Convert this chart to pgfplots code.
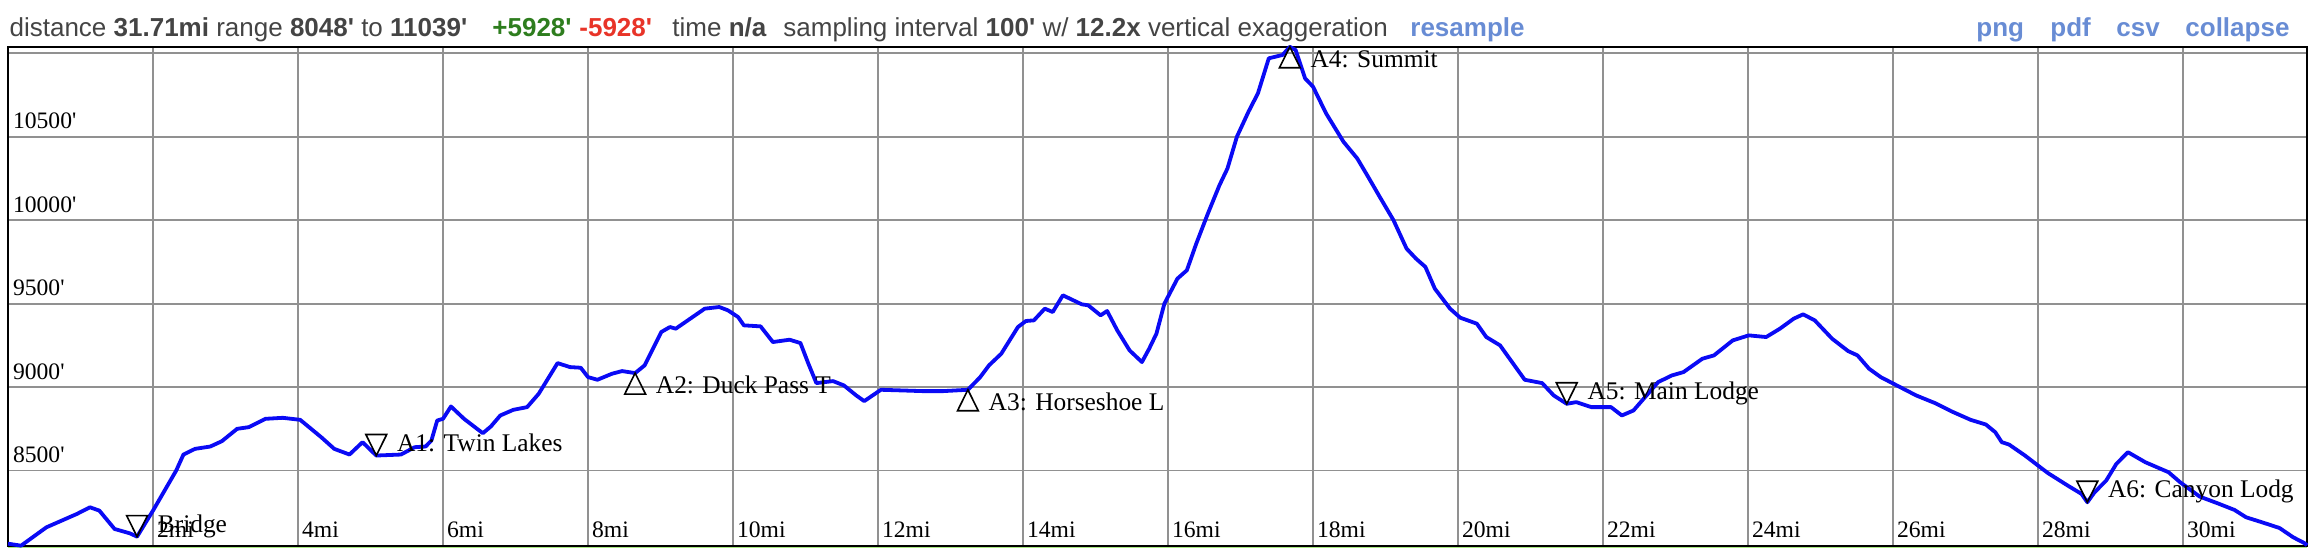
\documentclass[border=0pt]{standalone}
\usepackage{pgfplots}
\pgfplotsset{compat=1.18}
\usepackage{fontspec}
\setmainfont{Liberation Serif}
\newfontfamily\hdrfont{Liberation Sans}
\definecolor{gridc}{RGB}{145,145,145}
\definecolor{hdrc}{RGB}{68,68,68}
\definecolor{upc}{RGB}{46,125,30}
\definecolor{downc}{RGB}{232,52,40}
\definecolor{linkc}{RGB}{104,140,212}
\definecolor{curvec}{RGB}{10,10,245}
\definecolor{slopec}{RGB}{170,232,130}
\newcommand{\ft}{\textquotesingle}
\newcommand{\hdr}{\hdrfont\fontsize{13bp}{15bp}\selectfont}
\newcommand{\tickf}{\fontsize{11.8bp}{13bp}\selectfont}
\newcommand{\lblf}{\fontsize{12.7bp}{15bp}\selectfont}
\pgfdeclareplotmark{tdown}{%
  \pgfpathmoveto{\pgfpoint{0bp}{0bp}}%
  \pgfpathlineto{\pgfpoint{-5.2bp}{10.5bp}}%
  \pgfpathlineto{\pgfpoint{5.2bp}{10.5bp}}%
  \pgfpathclose\pgfusepathqstroke}
\pgfdeclareplotmark{tup}{%
  \pgfpathmoveto{\pgfpoint{0bp}{0bp}}%
  \pgfpathlineto{\pgfpoint{-5.2bp}{-10.5bp}}%
  \pgfpathlineto{\pgfpoint{5.2bp}{-10.5bp}}%
  \pgfpathclose\pgfusepathqstroke}
\pgfplotstableread{
x y
0.00 8062
0.18 8050
0.53 8160
0.95 8240
1.13 8280
1.26 8260
1.47 8150
1.68 8124
1.78 8104
2.00 8260
2.16 8380
2.32 8500
2.42 8596
2.58 8630
2.79 8644
2.95 8676
3.16 8750
3.32 8760
3.55 8810
3.79 8816
4.03 8804
4.32 8700
4.50 8630
4.71 8596
4.89 8670
5.08 8590
5.42 8596
5.61 8640
5.76 8644
5.84 8680
5.92 8800
6.00 8810
6.11 8884
6.29 8810
6.47 8750
6.55 8724
6.66 8764
6.79 8830
6.97 8864
7.16 8880
7.32 8960
7.58 9144
7.75 9120
7.90 9116
8.00 9060
8.13 9044
8.33 9080
8.47 9096
8.65 9084
8.78 9130
9.01 9330
9.13 9360
9.21 9350
9.41 9410
9.61 9470
9.81 9480
9.93 9460
10.07 9420
10.15 9370
10.38 9364
10.55 9270
10.78 9284
10.93 9264
11.04 9140
11.15 9024
11.38 9036
11.53 9010
11.70 8950
11.81 8916
12.04 8984
12.33 8980
12.61 8976
12.90 8976
13.24 8984
13.41 9060
13.53 9130
13.70 9200
13.93 9360
14.04 9396
14.15 9400
14.30 9470
14.41 9450
14.55 9550
14.81 9496
14.90 9490
15.07 9430
15.16 9456
15.30 9340
15.47 9220
15.64 9150
15.74 9230
15.84 9320
15.95 9500
16.13 9650
16.26 9700
16.39 9860
16.55 10040
16.71 10210
16.82 10310
16.95 10500
17.11 10650
17.24 10760
17.39 10970
17.58 10990
17.68 11039
17.76 11020
17.89 10850
18.00 10800
18.18 10640
18.42 10470
18.61 10370
18.76 10260
18.92 10140
19.11 10000
19.29 9830
19.42 9770
19.55 9720
19.68 9590
19.89 9470
20.03 9416
20.26 9380
20.39 9300
20.58 9250
20.92 9044
21.16 9024
21.32 8950
21.50 8900
21.63 8910
21.84 8880
22.11 8880
22.26 8830
22.42 8860
22.58 8940
22.76 9030
22.95 9070
23.11 9090
23.37 9170
23.53 9190
23.79 9280
24.01 9310
24.25 9300
24.44 9350
24.63 9410
24.76 9436
24.92 9400
25.16 9290
25.38 9216
25.51 9190
25.67 9110
25.83 9060
25.99 9024
26.32 8950
26.58 8904
26.80 8856
27.07 8804
27.28 8776
27.41 8730
27.50 8670
27.60 8656
27.82 8590
28.03 8520
28.14 8484
28.41 8410
28.60 8360
28.68 8310
28.78 8370
28.94 8440
29.08 8540
29.24 8610
29.48 8550
29.80 8490
29.96 8430
30.23 8344
30.50 8300
30.71 8264
30.87 8220
31.09 8190
31.33 8156
31.52 8100
31.68 8064
31.71 8052
}\profile
\begin{document}
\begin{tikzpicture}
\useasboundingbox (0,0) rectangle (1155bp,274bp);
\fill[slopec] (4bp,0bp) rectangle (1153.5bp,1bp);
\begin{axis}[
  at={(4bp,1bp)}, anchor=south west,
  scale only axis, width=1149.5bp, height=249.6bp,
  xmin=0, xmax=31.71, ymin=8048, ymax=11039,
  clip=false,
  scaled x ticks=false, scaled y ticks=false,
  axis line style={black, line width=1bp},
  grid=major,
  major grid style={draw=gridc, line width=0.85bp},
  major tick length=0pt,
  xtick={2,4,6,8,10,12,14,16,18,20,22,24,26,28,30},
  xticklabels={2mi,4mi,6mi,8mi,10mi,12mi,14mi,16mi,18mi,20mi,22mi,24mi,26mi,28mi,30mi},
  ytick={8500,9000,9500,10000,10500,11000},
  yticklabels={8500\ft,9000\ft,9500\ft,10000\ft,10500\ft,{}},
  xticklabel style={anchor=base west, inner sep=0pt, font=\tickf, xshift=1.85bp, yshift=4.15bp},
  yticklabel style={anchor=base west, inner sep=0pt, font=\tickf, xshift=2.35bp, yshift=4bp},
  every node near coord/.append style={anchor=base west, inner sep=0pt, font=\lblf, text=black},
]
\addplot[curvec, line width=1.9bp, line join=round, no markers] table[x=x,y=y] {\profile};
\addplot[only marks, mark=tdown, mark options={draw=black, line width=0.8bp},
  nodes near coords, point meta=explicit symbolic,
  every node near coord/.append style={xshift=10bp, yshift=2.25bp}]
  table[col sep=comma, row sep=\\, x=x, y=y, meta=label]{
x,y,label\\
1.78,8104,Bridge\\
5.08,8590,A1: Twin Lakes\\
21.50,8900,A5: Main Lodge\\
28.68,8310,A6: Canyon Lodg\\
};
\addplot[only marks, mark=tup, mark options={draw=black, line width=0.8bp},
  nodes near coords, point meta=explicit symbolic,
  every node near coord/.append style={xshift=10bp, yshift=-10.3bp}]
  table[col sep=comma, row sep=\\, x=x, y=y, meta=label]{
x,y,label\\
8.65,9084,A2: Duck Pass T\\
13.24,8984,A3: Horseshoe L\\
17.68,11039,A4: Summit\\
};
\end{axis}
\begin{scope}[every node/.style={inner sep=0pt, anchor=base west, font=\hdr, text=hdrc}]
\node at (4.6bp,255.75bp) {distance \textbf{31.71mi} range \textbf{8048\ft} to \textbf{11039\ft}};
\node[text=upc] at (246bp,255.75bp) {\textbf{+5928\ft}};
\node[text=downc] at (289.5bp,255.75bp) {\textbf{-5928\ft}};
\node at (336bp,255.75bp) {time \textbf{n/a}};
\node at (391.5bp,255.75bp) {sampling interval \textbf{100\ft} w/ \textbf{12.2x} vertical exaggeration};
\node[text=linkc] at (705bp,255.75bp) {\textbf{resample}};
\node[text=linkc] at (988bp,255.75bp) {\textbf{png}};
\node[text=linkc] at (1025bp,255.75bp) {\textbf{pdf}};
\node[text=linkc] at (1058bp,255.75bp) {\textbf{csv}};
\node[text=linkc] at (1092.5bp,255.75bp) {\textbf{collapse}};
\end{scope}
\end{tikzpicture}
\end{document}
